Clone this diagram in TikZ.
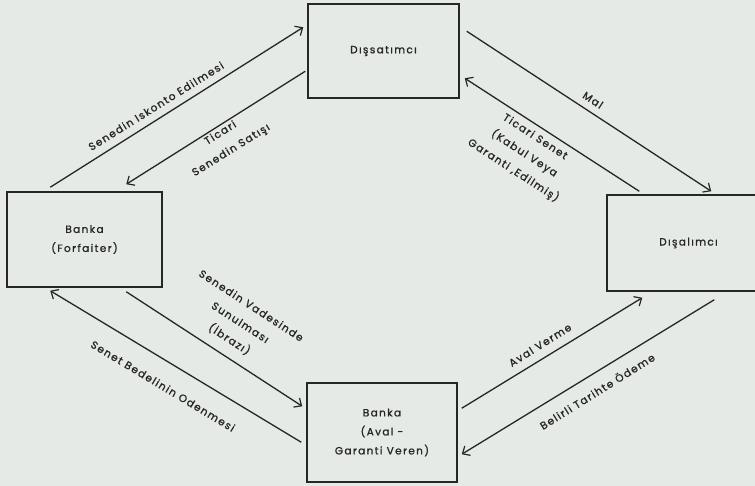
\documentclass[tikz,border=0pt]{standalone}
\usepackage{fontspec}
\setmainfont{Poppins}
\newfontfamily\lblfont[LetterSpace=13, FakeBold=1.2]{Poppins}
\usetikzlibrary{arrows.meta,calc}
\definecolor{bg}{RGB}{229,234,231}
\definecolor{ink}{RGB}{38,38,38}
\begin{document}
\begin{tikzpicture}[x=1pt,y=-1pt,
  box/.style={draw=ink, line width=1.5pt, fill=bg, inner sep=0pt, align=center,
    font=\lblfont\fontsize{10.5}{19}\selectfont, text=ink},
  conn/.style={draw=ink, line width=1.3pt, -{Straight Barb[length=6pt,width=11pt,line width=1.2pt]}},
  lbl/.style={font=\lblfont\fontsize{10.5}{20}\selectfont, text=ink, align=center, inner sep=0pt}]
\fill[bg] (0,0) rectangle (755,486);
\useasboundingbox (0,0) rectangle (755,486);
\clip (0,0) rectangle (755,486);
% boxes
\node[box, minimum width=151pt, minimum height=94pt] (ds) at (383.5,51) {Dışsatımcı};
\node[box, minimum width=155pt, minimum height=95pt] (bf) at (84.5,239.5) {Banka\\(Forfaiter)};
\node[box, minimum width=163pt, minimum height=96pt] (da) at (688.5,243) {Dışalımcı};
\node[box, minimum width=150pt, minimum height=99pt] (ba) at (382,432.5) {Banka\\(Aval -\\Garanti Veren)};
% connectors
\draw[conn] ($(bf.north west)+(44,-4)$) -- ($(ds.north west)+(-4,24)$);
\draw[conn] ($(ds.north west)+(-2,68)$) -- ($(bf.north west)+(120,-7)$);
\draw[conn] ($(ds.north east)+(7,28)$) -- ($(da.north west)+(105,-3)$);
\draw[conn] ($(da.north west)+(33,-3)$) -- ($(ds.north east)+(5,75)$);
\draw[conn] ($(bf.south west)+(120,4)$) -- ($(ba.north west)+(-4,24)$);
\draw[conn] ($(ba.north west)+(-5,60)$) -- ($(bf.south west)+(44,3)$);
\draw[conn] ($(ba.north east)+(4,26)$) -- ($(da.south west)+(36,6)$);
\draw[conn] ($(da.south west)+(108,8)$) -- ($(ba.north east)+(4,72)$);
% labels
\node[lbl, rotate=32] (l1) at (156,106) {Senedin Iskonto Edilmesi};
\node[lbl, rotate=32] (l2) at (226,142) {Ticari\\Senedin Satışı};
\node[lbl, rotate=-33] (l3) at (593,100) {Mal};
\node[lbl, rotate=-33] (l4) at (524,154) {Ticari Senet\\(Kabul Veya\\Garanti ,Edilmiş)};
\node[lbl, rotate=-33] (l5) at (240,323) {Senedin Vadesinde\\Sunulması\\(İbrazı)};
\node[lbl, rotate=-31] (l6) at (163,386) {Senet Bedelinin Odenmesi};
\node[lbl, rotate=32] (l7) at (540,345) {Aval Verme};
\node[lbl, rotate=32] (l8) at (597,391) {Belirli Tarihte Ödeme};
\end{tikzpicture}
\end{document}
